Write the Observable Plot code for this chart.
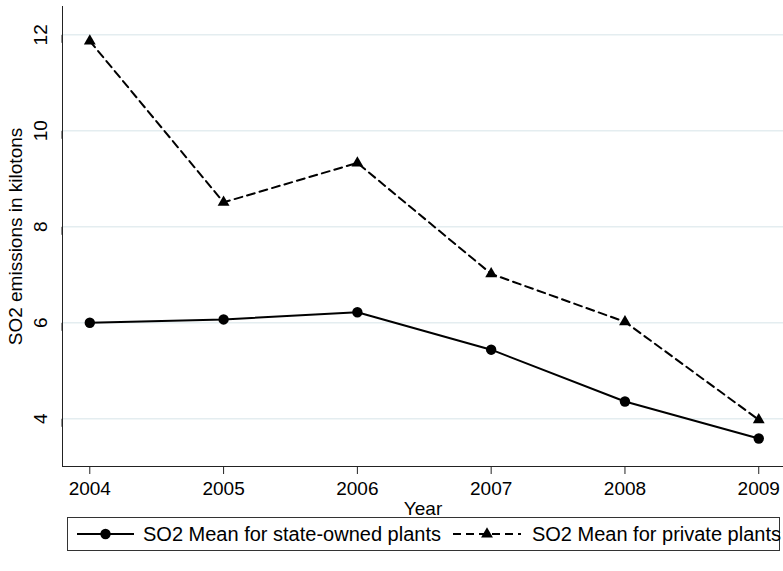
<!DOCTYPE html>
<html><head><meta charset="utf-8">
<script src="https://cdn.jsdelivr.net/npm/d3@7"></script>
<script src="https://cdn.jsdelivr.net/npm/@observablehq/plot@0.6"></script>
<style>
body{margin:0;background:#fff;font-family:"Liberation Sans",Arial,sans-serif;}
#wrap{position:relative;width:783px;height:571px;overflow:hidden;}
#legend{position:absolute;left:67px;top:517px;width:713px;height:34px;border:1px solid #333;box-sizing:border-box;display:flex;align-items:center;font-size:20px;color:#000;white-space:nowrap;}
#legend svg{display:block;flex:none;}
</style></head><body><div id="wrap"><div id="chart"></div><div id="legend"></div></div>
<script>
const years = [2004, 2005, 2006, 2007, 2008, 2009];
const stateOwned = [6.00, 6.07, 6.22, 5.44, 4.36, 3.59];
const privatePlants = [11.87, 8.51, 9.33, 7.02, 6.02, 3.98];
const yTicks = [4, 6, 8, 10, 12];
const seriesNames = ["SO2 Mean for state-owned plants", "SO2 Mean for private plants"];
const xLabel = "Year";
const yLabel = "SO2 emissions in kilotons";

const stateData = years.map((year, i) => ({year, value: stateOwned[i]}));
const privateData = years.map((year, i) => ({year, value: privatePlants[i]}));

const font = "'Liberation Sans', Arial, sans-serif";
const chart = Plot.plot({
  width: 783, height: 520,
  marginLeft: 62, marginRight: 0, marginTop: 6, marginBottom: 54,
  style: {fontFamily: font, fontSize: "19px", color: "#000", background: "#fff", overflow: "visible"},
  x: {domain: [2003.796, 2009.185]},
  y: {domain: [3.006, 12.59]},
  marks: [
    Plot.gridY(yTicks, {stroke: "#e4edf0", strokeOpacity: 1, strokeWidth: 1.5}),
    Plot.axisX(years, {tickSize: 8, tickPadding: 7, tickFormat: d => String(d), label: xLabel, labelAnchor: "center", labelOffset: 48, labelArrow: "none", fontSize: 19, stroke: "#222"}),
    Plot.axisY(yTicks, {tickSize: 8, tickPadding: 14, rotate: -90, textAnchor: "middle", label: yLabel, labelAnchor: "center", labelOffset: 54, labelArrow: "none", fontSize: 19, stroke: "#222"}),
    Plot.frame({anchor: "left", stroke: "#222"}),
    Plot.frame({anchor: "bottom", stroke: "#222"}),
    Plot.line(privateData, {x: "year", y: "value", stroke: "#000", strokeWidth: 2, strokeDasharray: "8,5"}),
    Plot.line(stateData, {x: "year", y: "value", stroke: "#000", strokeWidth: 2}),
    Plot.dot(privateData, {x: "year", y: "value", symbol: "triangle", r: 4.4, fill: "#000", stroke: "none"}),
    Plot.dot(stateData, {x: "year", y: "value", r: 5.2, fill: "#000", stroke: "none"})
  ]
});
document.getElementById("chart").appendChild(chart);

const legend = document.getElementById("legend");
legend.innerHTML = `
  <svg width="57" height="20" style="margin-left:9px"><line x1="0" x2="57" y1="10" y2="10" stroke="#000" stroke-width="2"/><circle cx="28.5" cy="10" r="5.2" fill="#000"/></svg>
  <span style="margin-left:9px">${seriesNames[0]}</span>
  <svg width="68" height="20" style="margin-left:12px"><line x1="0" x2="68" y1="10" y2="10" stroke="#000" stroke-width="2" stroke-dasharray="8,5"/><path d="${d3.symbol(d3.symbolTriangle, Math.PI * 4.4 * 4.4)()}" transform="translate(34,10)" fill="#000"/></svg>
  <span style="margin-left:11px">${seriesNames[1]}</span>`;
</script>
</body></html>
